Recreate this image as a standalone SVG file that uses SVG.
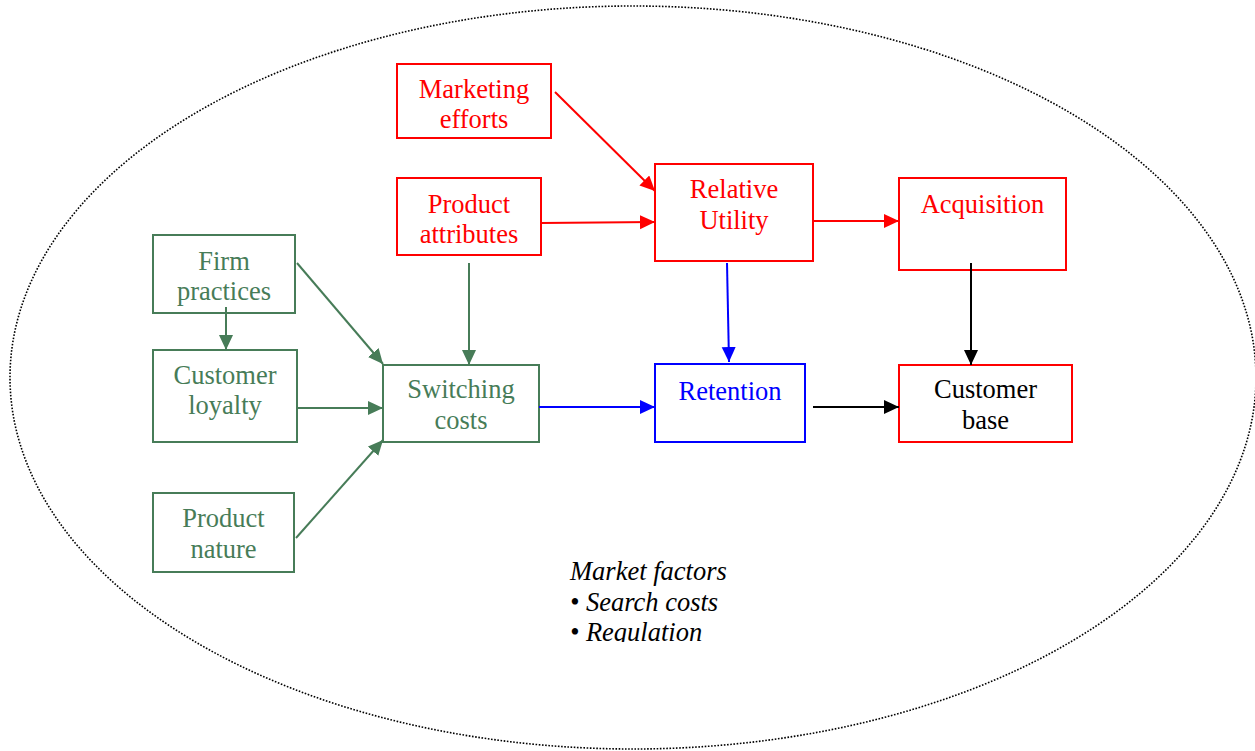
<svg xmlns="http://www.w3.org/2000/svg" width="1255" height="751" viewBox="0 0 1255 751">
  <style>
    .box { fill: #ffffff; stroke-width: 2; }
    .g { stroke: #477c58; }
    .r { stroke: #ff0000; }
    .b { stroke: #0000ff; }
    .lbl { font-family: "Liberation Serif", "Times New Roman", serif; font-size: 26.5px; text-anchor: middle; }
    .tg { fill: #477c58; }
    .tr { fill: #ff0000; }
    .tb { fill: #0000ff; }
    .tk { fill: #000000; }
    .edge { fill: none; stroke-width: 2; }
    .note { font-family: "Liberation Serif", "Times New Roman", serif; font-size: 26.5px; font-style: italic; fill: #000000; }
  </style>
  <defs>
    <marker id="ah-green" markerUnits="userSpaceOnUse" markerWidth="16" markerHeight="15" refX="15" refY="7" orient="auto">
      <path d="M0,0 L15,7 L0,14 z" fill="#477c58"/>
    </marker>
    <marker id="ah-red" markerUnits="userSpaceOnUse" markerWidth="16" markerHeight="15" refX="15" refY="7" orient="auto">
      <path d="M0,0 L15,7 L0,14 z" fill="#ff0000"/>
    </marker>
    <marker id="ah-blue" markerUnits="userSpaceOnUse" markerWidth="16" markerHeight="15" refX="15" refY="7" orient="auto">
      <path d="M0,0 L15,7 L0,14 z" fill="#0000ff"/>
    </marker>
    <marker id="ah-black" markerUnits="userSpaceOnUse" markerWidth="16" markerHeight="15" refX="15" refY="7" orient="auto">
      <path d="M0,0 L15,7 L0,14 z" fill="#000000"/>
    </marker>
    <clipPath id="note-clip">
      <rect x="560" y="555" width="220" height="87"/>
    </clipPath>
  </defs>

  <rect width="1255" height="751" fill="#ffffff"/>

  <!-- market boundary -->
  <ellipse id="market" cx="633" cy="377.5" rx="623" ry="371.5" fill="none" stroke="#000000" stroke-width="1.6" stroke-dasharray="1.6 1.6"/>

  <!-- nodes -->
  <g id="marketing-efforts">
    <rect class="box r" x="397" y="64" width="154" height="74"/>
    <text class="lbl tr" x="474" y="98">Marketing</text>
    <text class="lbl tr" x="474" y="128">efforts</text>
  </g>
  <g id="product-attributes">
    <rect class="box r" x="397" y="178" width="144" height="77"/>
    <text class="lbl tr" x="469" y="213">Product</text>
    <text class="lbl tr" x="469" y="243">attributes</text>
  </g>
  <g id="relative-utility">
    <rect class="box r" x="655" y="164" width="158" height="97"/>
    <text class="lbl tr" x="734" y="198">Relative</text>
    <text class="lbl tr" x="734" y="229">Utility</text>
  </g>
  <g id="acquisition">
    <rect class="box r" x="899" y="178" width="167" height="92"/>
    <text class="lbl tr" x="982.5" y="213">Acquisition</text>
  </g>
  <g id="retention">
    <rect class="box b" x="655" y="364" width="150" height="78"/>
    <text class="lbl tb" x="730" y="400">Retention</text>
  </g>
  <g id="customer-base">
    <rect class="box r" x="899" y="365" width="173" height="77"/>
    <text class="lbl tk" x="985.5" y="398">Customer</text>
    <text class="lbl tk" x="985.5" y="429">base</text>
  </g>
  <g id="firm-practices">
    <rect class="box g" x="153" y="235" width="142" height="78"/>
    <text class="lbl tg" x="224" y="270">Firm</text>
    <text class="lbl tg" x="224" y="300">practices</text>
  </g>
  <g id="customer-loyalty">
    <rect class="box g" x="153" y="350" width="144" height="92"/>
    <text class="lbl tg" x="225" y="384">Customer</text>
    <text class="lbl tg" x="225" y="414">loyalty</text>
  </g>
  <g id="switching-costs">
    <rect class="box g" x="383" y="365" width="156" height="77"/>
    <text class="lbl tg" x="461" y="398">Switching</text>
    <text class="lbl tg" x="461" y="429">costs</text>
  </g>
  <g id="product-nature">
    <rect class="box g" x="153" y="493" width="141" height="79"/>
    <text class="lbl tg" x="223.5" y="527">Product</text>
    <text class="lbl tg" x="223.5" y="558">nature</text>
  </g>

  <!-- connectors, drawn over the boxes so tails inside a box stay visible -->
  <g id="connectors">
    <line class="edge" x1="555" y1="92" x2="655" y2="191" stroke="#ff0000" marker-end="url(#ah-red)"/>
    <line class="edge" x1="541" y1="223" x2="655" y2="222" stroke="#ff0000" marker-end="url(#ah-red)"/>
    <line class="edge" x1="813" y1="221" x2="899" y2="221" stroke="#ff0000" marker-end="url(#ah-red)"/>
    <line class="edge" x1="727" y1="263" x2="729" y2="362" stroke="#0000ff" marker-end="url(#ah-blue)"/>
    <line class="edge" x1="539" y1="407" x2="655" y2="407" stroke="#0000ff" marker-end="url(#ah-blue)"/>
    <line class="edge" x1="971" y1="263" x2="971" y2="365" stroke="#000000" marker-end="url(#ah-black)"/>
    <line class="edge" x1="813" y1="407" x2="899" y2="407" stroke="#000000" marker-end="url(#ah-black)"/>
    <line class="edge" x1="297" y1="263" x2="383" y2="364" stroke="#477c58" marker-end="url(#ah-green)"/>
    <line class="edge" x1="226" y1="307" x2="226" y2="350" stroke="#477c58" marker-end="url(#ah-green)"/>
    <line class="edge" x1="469" y1="263" x2="469" y2="365" stroke="#477c58" marker-end="url(#ah-green)"/>
    <line class="edge" x1="297" y1="408" x2="383" y2="408" stroke="#477c58" marker-end="url(#ah-green)"/>
    <line class="edge" x1="296" y1="538" x2="383" y2="440" stroke="#477c58" marker-end="url(#ah-green)"/>
  </g>

  <!-- market factors note -->
  <g id="market-factors" clip-path="url(#note-clip)">
    <text class="note" x="570" y="580">Market factors</text>
    <text class="note" x="570" y="611">• Search costs</text>
    <text class="note" x="570" y="641">• Regulation</text>
  </g>
</svg>
